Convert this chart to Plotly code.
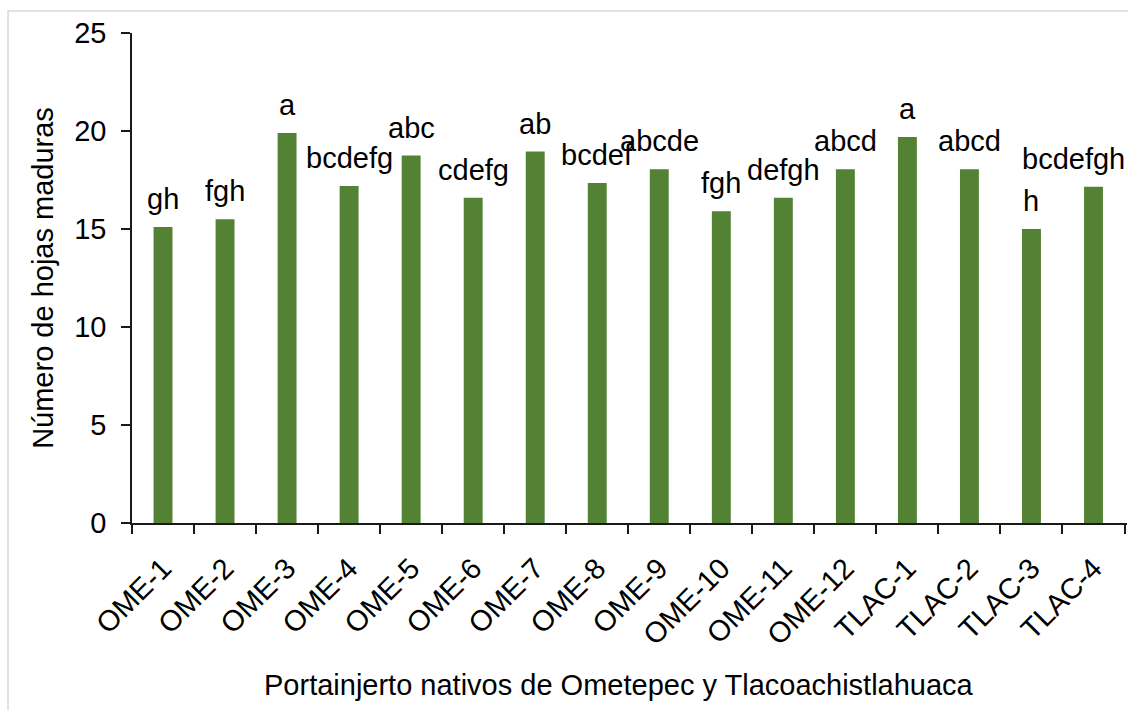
import plotly.graph_objects as go

# Portainjertos (rootstocks) and mean number of mature leaves
categories = ["OME-1", "OME-2", "OME-3", "OME-4", "OME-5", "OME-6", "OME-7", "OME-8",
              "OME-9", "OME-10", "OME-11", "OME-12", "TLAC-1", "TLAC-2", "TLAC-3", "TLAC-4"]
values = [15.1, 15.5, 19.9, 17.2, 18.75, 16.6, 18.95, 17.35,
          18.05, 15.9, 16.6, 18.05, 19.7, 18.05, 15.0, 17.15]
# Mean-separation letters
letters = ["gh", "fgh", "a", "bcdefg", "abc", "cdefg", "ab", "bcdef",
           "abcde", "fgh", "defgh", "abcd", "a", "abcd", "h", "bcdefgh"]
y_ticks = [0, 5, 10, 15, 20, 25]

FONT = "Liberation Sans, Arial, sans-serif"
FS = 29
BAR_COLOR = "#548235"
AXIS_COLOR = "#1a1a1a"

fig = go.Figure(
    go.Bar(
        x=categories,
        y=values,
        marker=dict(color=BAR_COLOR, line=dict(width=0)),
        hoverinfo="x+y",
    )
)

# Letter labels above each bar; the last one is nudged left to stay inside the frame
for i, (cat, val, lab) in enumerate(zip(categories, values, letters)):
    fig.add_annotation(
        x=cat, y=val, text=lab, showarrow=False,
        yanchor="bottom", xanchor="center", yshift=10,
        xshift=-20 if i == len(categories) - 1 else 0,
        font=dict(family=FONT, size=FS, color="#000000"),
    )

# X-axis title
fig.add_annotation(
    x=0.4894, y=0, xref="paper", yref="paper",
    text="Portainjerto nativos de Ometepec y Tlacoachistlahuaca",
    showarrow=False, xanchor="center", yanchor="middle", yshift=-162,
    font=dict(family=FONT, size=FS, color="#000000"),
)

# Light chart-area frame
fig.add_shape(
    type="rect", xref="paper", yref="paper",
    x0=-0.1246, x1=1.05, y0=-0.6, y1=1.0449,
    line=dict(color="#d9d9d9", width=1.5), fillcolor="rgba(0,0,0,0)", layer="below",
)

fig.update_layout(
    width=1128, height=710,
    margin=dict(l=132, r=1, t=33, b=187),
    paper_bgcolor="white", plot_bgcolor="white",
    bargap=0.695,
    showlegend=False,
    font=dict(family=FONT, size=FS, color="#000000"),
    xaxis=dict(
        type="category",
        tickson="boundaries",
        ticks="outside", ticklen=9, tickwidth=1.5, tickcolor=AXIS_COLOR,
        showline=True, linecolor=AXIS_COLOR, linewidth=1.5,
        tickangle=-45,
        ticklabelstandoff=15,
        tickfont=dict(family=FONT, size=FS, color="#000000"),
        showgrid=False, zeroline=False, automargin=False,
    ),
    yaxis=dict(
        range=[0, 25],
        tickvals=y_ticks,
        ticks="outside", ticklen=9, tickwidth=1.5, tickcolor=AXIS_COLOR,
        showline=True, linecolor=AXIS_COLOR, linewidth=1.5,
        ticklabelstandoff=9,
        tickfont=dict(family=FONT, size=FS, color="#000000"),
        title=dict(text="Número de hojas maduras",
                   font=dict(family=FONT, size=FS, color="#000000"), standoff=12),
        showgrid=False, zeroline=False, automargin=False,
    ),
)

fig.write_html("out.html")
